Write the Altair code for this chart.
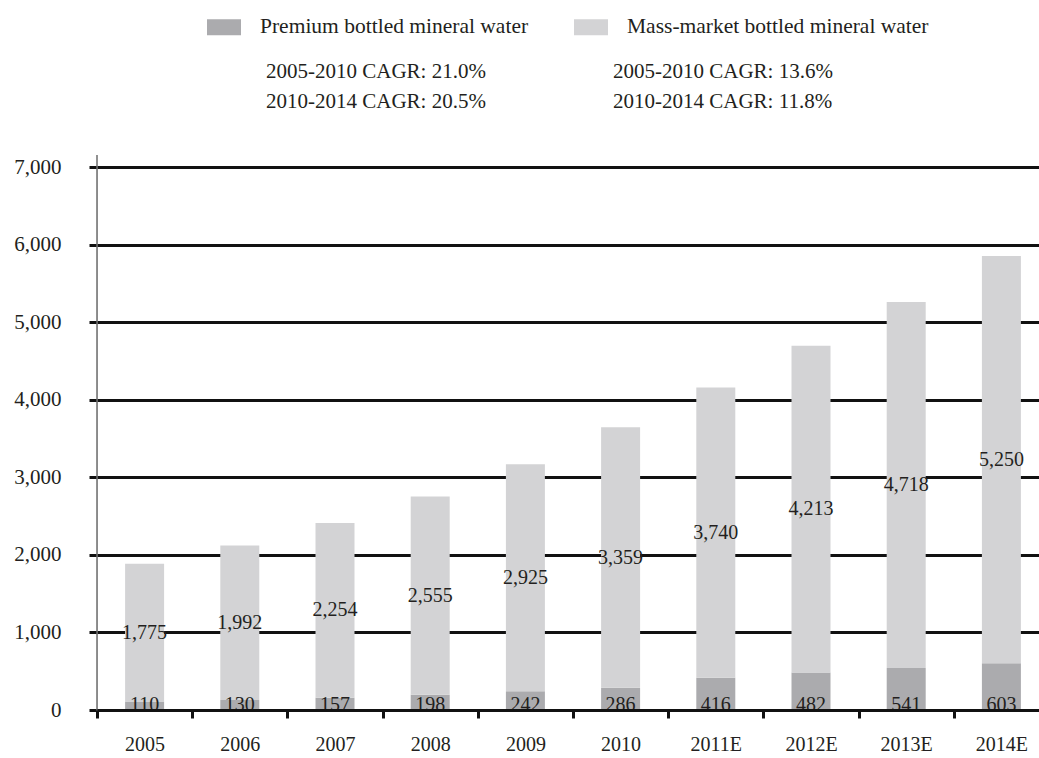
import altair as alt
import pandas as pd

# Bottled mineral water market, by segment
years = ["2005", "2006", "2007", "2008", "2009", "2010", "2011E", "2012E", "2013E", "2014E"]
premium = [110, 130, 157, 198, 242, 286, 416, 482, 541, 603]
mass_market = [1775, 1992, 2254, 2555, 2925, 3359, 3740, 4213, 4718, 5250]

series = ["Premium bottled mineral water", "Mass-market bottled mineral water"]
series_colors = ["#ababae", "#d3d3d5"]

cagr_premium = ["2005-2010 CAGR: 21.0%", "2010-2014 CAGR: 20.5%"]
cagr_mass = ["2005-2010 CAGR: 13.6%", "2010-2014 CAGR: 11.8%"]

y_ticks = [0, 1000, 2000, 3000, 4000, 5000, 6000, 7000]

df = pd.DataFrame({"year": years, "premium": premium, "mass": mass_market})

FONT = "Liberation Serif"
INK = "#231f20"
PLOT_W = 942
PLOT_H = 543

x_enc = alt.X(
    "year:N",
    sort=years,
    title=None,
    scale=alt.Scale(range=[0, 952], paddingInner=0, paddingOuter=0),
    axis=alt.Axis(
        tickBand="extent",
        labelAngle=0,
        labelFont=FONT,
        labelFontSize=20,
        labelColor=INK,
        labelPadding=16,
        domainColor="#111111",
        domainWidth=3,
        tickColor="#111111",
        tickWidth=3,
        tickSize=8,
        zindex=1,
    ),
)

y_axis = alt.Axis(
    values=y_ticks,
    labelExpr="format(datum.value, ',')",
    title=None,
    grid=True,
    gridColor="#111111",
    gridWidth=3,
    gridOpacity=1,
    domain=False,
    tickColor="#111111",
    tickWidth=3,
    tickSize=8,
    labelFont=FONT,
    labelFontSize=21,
    labelColor=INK,
    labelPadding=28,
)
y_scale = alt.Scale(domain=[0, 7000], nice=False, zero=True)

color_scale = alt.Scale(domain=series, range=series_colors)
legend = alt.Legend(
    title=None,
    orient="none",
    legendX=110,
    legendY=-157,
    direction="horizontal",
    columns=2,
    columnPadding=45,
    padding=0,
    symbolType="M-1,-0.47H1V0.47H-1Z",
    symbolSize=1156,
    symbolStrokeWidth=0,
    symbolOpacity=1,
    labelFont=FONT,
    labelFontSize=21.5,
    labelColor=INK,
    labelOffset=19,
    labelLimit=0,
)

seg_color = alt.Color("segment:N", scale=color_scale, legend=legend)

base = alt.Chart(df)

premium_bars = base.transform_calculate(
    segment=f"'{series[0]}'"
).mark_bar(size=39).encode(
    x=x_enc,
    y=alt.Y("premium:Q", scale=y_scale, axis=y_axis),
    color=seg_color,
)

mass_bars = base.transform_calculate(
    total="datum.premium + datum.mass",
    segment=f"'{series[1]}'",
).mark_bar(size=39).encode(
    x=x_enc,
    y=alt.Y("total:Q", scale=y_scale, axis=y_axis),
    y2="premium:Q",
    color=seg_color,
)

mass_labels = base.transform_calculate(
    mid="datum.premium + datum.mass / 2"
).mark_text(font=FONT, fontSize=20, color=INK, baseline="middle").encode(
    x=x_enc,
    y=alt.Y("mid:Q", scale=y_scale, axis=y_axis),
    text=alt.Text("mass:Q", format=","),
)

premium_labels = base.transform_calculate(
    floor="0"
).mark_text(
    font=FONT, fontSize=20, color=INK, baseline="alphabetic", dy=1
).encode(
    x=x_enc,
    y=alt.Y("floor:Q", scale=y_scale, axis=y_axis),
    text=alt.Text("premium:Q", format=","),
)

# thin grey vertical axis line, running a little past both ends of the scale
y_line = alt.Chart(pd.DataFrame({"k": [0]})).mark_rule(
    color="#6d6d6d", strokeWidth=1.5
).encode(x=alt.value(0), y=alt.value(-12), y2=alt.value(PLOT_H + 8))

# growth-rate notes under each legend entry
note_layers = []
for col_x, lines in [(169, cagr_premium), (516, cagr_mass)]:
    for row_y, line in zip([-95, -65], lines):
        note_layers.append(
            alt.Chart(pd.DataFrame({"note": [line]})).mark_text(
                font=FONT, fontSize=21, color=INK, align="left", baseline="middle"
            ).encode(text="note:N", x=alt.value(col_x), y=alt.value(row_y))
        )

chart = alt.layer(
    premium_bars, mass_bars, mass_labels, premium_labels, y_line, *note_layers
).properties(
    width=PLOT_W,
    height=PLOT_H,
    autosize=alt.AutoSizeParams(type="none"),
    padding={"left": 97, "top": 167, "right": 0, "bottom": 44},
).configure_view(stroke=None).configure(background="white")

chart.save("out.html", embed_options={"renderer": "svg", "actions": False})
